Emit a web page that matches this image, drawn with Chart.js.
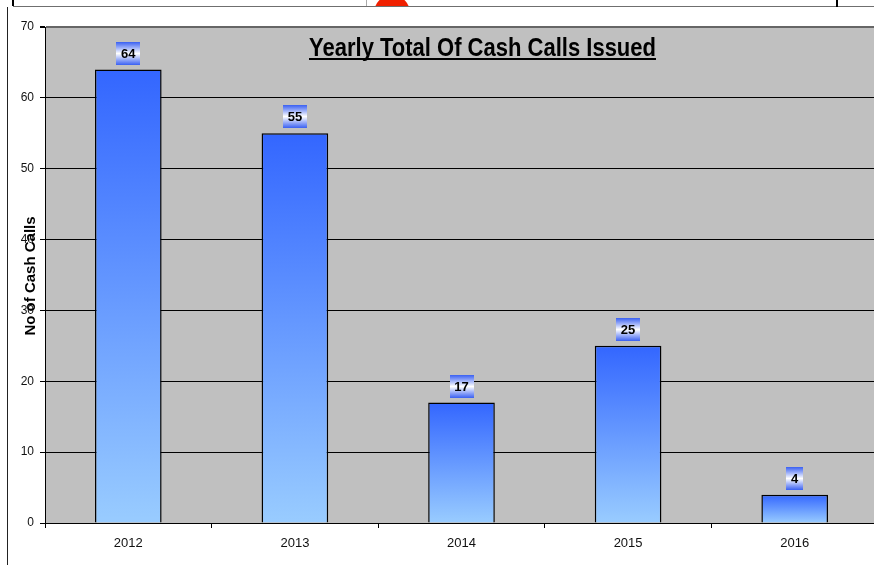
<!DOCTYPE html>
<html>
<head>
<meta charset="utf-8">
<script src="https://cdn.jsdelivr.net/npm/chart.js@4"></script>
<style>
  html, body {
    margin: 0;
    padding: 0;
    background: #fff;
    width: 874px;
    height: 565px;
    overflow: hidden;
  }

  .area {
    position: relative;
    width: 874px;
    height: 565px;
    overflow: hidden;
  }

  #grafico {
    position: absolute;
    left: 0;
    top: 0;
  }

  .risco {
    position: absolute;
  }
</style>
</head>
<body>
<div class="area">
  <canvas id="grafico" width="880" height="565"></canvas>
  <div class="risco" style="left:13px; top:6px; width:861px; height:1px; background:#6f6f6f;"></div>
  <div class="risco" style="left:12px; top:0; width:2px; height:6px; background:#000;"></div>
  <div class="risco" style="left:366px; top:0; width:1px; height:6px; background:#aaa;"></div>
  <div class="risco" style="left:374px; top:0; width:36px; height:6px; overflow:hidden;">
    <div style="position:absolute; left:0; top:-5px; width:36px; height:36px; border-radius:50%; background:#f02000;"></div>
  </div>
  <div class="risco" style="left:836px; top:0; width:2px; height:7px; background:#000;"></div>
  <div class="risco" style="left:7px; top:7px; width:1px; height:558px; background:#222;"></div>
</div>

<script>
const anos = ["2012", "2013", "2014", "2015", "2016"];
const totais = [64, 55, 17, 25, 4];
const marcasEixoY = [0, 10, 20, 30, 40, 50, 60, 70];

const tituloGrafico = "Yearly Total Of Cash Calls Issued";
const tituloEixoY = "No of Cash Calls";

function gradienteBarra(contexto) {
  const grafico = contexto.chart;
  const escalaY = grafico.scales.y;
  if (!escalaY || contexto.parsed == null) return "#3366ff";

  const topo = escalaY.getPixelForValue(contexto.parsed.y);
  const base = escalaY.getPixelForValue(0);
  if (!isFinite(topo) || !isFinite(base) || topo === base) return "#3366ff";

  const gradiente = grafico.ctx.createLinearGradient(0, topo, 0, base);
  gradiente.addColorStop(0, "#3366ff");
  gradiente.addColorStop(1, "#99ccff");
  return gradiente;
}

const pluginRotulos = {
  id: "rotulos",
  afterDatasetsDraw(grafico) {
    const ctx = grafico.ctx;
    const barras = grafico.getDatasetMeta(0).data;

    ctx.save();
    ctx.font = "bold 13px 'Liberation Sans', Arial, sans-serif";
    ctx.textAlign = "center";
    ctx.textBaseline = "middle";

    barras.forEach((barra, i) => {
      const texto = String(totais[i]);
      const largura = Math.round(ctx.measureText(texto).width) + 10;
      const altura = 23;
      const x = Math.round(barra.x - largura / 2);
      const y = Math.round(barra.y - 5 - altura);

      const fundo = ctx.createLinearGradient(0, y, 0, y + altura);
      fundo.addColorStop(0, "#3a60f2");
      fundo.addColorStop(0.5, "#ffffff");
      fundo.addColorStop(1, "#3a60f2");
      ctx.fillStyle = fundo;
      ctx.fillRect(x, y, largura, altura);

      ctx.fillStyle = "#000";
      ctx.fillText(texto, barra.x, y + altura / 2 + 1);
    });

    ctx.restore();
  }
};

const pluginTextos = {
  id: "textos",
  afterDraw(grafico) {
    const ctx = grafico.ctx;

    // titulo estreito: fonte maior comprimida na horizontal
    ctx.save();
    ctx.font = "bold 26px 'Liberation Sans Narrow', 'Liberation Sans', Arial, sans-serif";
    ctx.textBaseline = "alphabetic";
    ctx.textAlign = "left";
    const larguraReal = ctx.measureText(tituloGrafico).width;
    const larguraAlvo = 347;
    const escala = larguraAlvo / larguraReal;
    const inicio = 309;

    ctx.translate(inicio, 56);
    ctx.scale(escala, 1);
    ctx.fillStyle = "#000";
    ctx.fillText(tituloGrafico, 0, 0);
    ctx.restore();

    ctx.save();
    ctx.fillStyle = "#000";
    ctx.fillRect(inicio, 58, larguraAlvo, 2);
    ctx.restore();

    ctx.save();
    ctx.font = "bold 15px 'Liberation Sans', Arial, sans-serif";
    ctx.fillStyle = "#000";
    ctx.textAlign = "center";
    ctx.textBaseline = "middle";
    ctx.translate(31, 276);
    ctx.rotate(-Math.PI / 2);
    ctx.fillText(tituloEixoY, 0, 0);
    ctx.restore();
  }
};

const pluginFundo = {
  id: "fundoPlot",
  beforeDraw(grafico) {
    const area = grafico.chartArea;
    const ctx = grafico.ctx;
    ctx.save();
    ctx.fillStyle = "#c0c0c0";
    ctx.fillRect(area.left, area.top, area.right - area.left, area.bottom - area.top);
    ctx.restore();
  }
};

function criarGrafico() {
  const canvas = document.getElementById("grafico");

  return new Chart(canvas, {
    type: "bar",
    data: {
      labels: anos,
      datasets: [{
        data: totais,
        backgroundColor: gradienteBarra,
        borderColor: "#000",
        borderWidth: 1.5,
        barPercentage: 0.4,
        categoryPercentage: 1
      }]
    },
    options: {
      responsive: false,
      animation: false,
      devicePixelRatio: 1,
      layout: {
        padding: { top: 27, right: 2, bottom: 0, left: 0 }
      },
      plugins: {
        legend: { display: false },
        tooltip: { enabled: false }
      },
      scales: {
        x: {
          afterFit(escala) {
            escala.height = 42;
          },
          grid: {
            offset: true,
            drawOnChartArea: false,
            color: "#000",
            tickLength: 5
          },
          border: {
            color: "#000",
            width: 1
          },
          ticks: {
            color: "#111",
            padding: 8,
            font: { family: "'Liberation Sans', Arial, sans-serif", size: 13 }
          }
        },
        y: {
          min: 0,
          max: 70,
          afterFit(escala) {
            escala.width = 45;
          },
          afterBuildTicks(escala) {
            escala.ticks = marcasEixoY.map(valor => ({ value: valor }));
          },
          grid: {
            color: contexto => (contexto.tick && contexto.tick.value === 70 ? "#666" : "#000"),
            lineWidth: contexto => (contexto.tick && contexto.tick.value === 70 ? 2 : 1),
            tickColor: "#000",
            tickLength: 5
          },
          border: {
            color: "#000",
            width: 1
          },
          ticks: {
            color: "#111",
            padding: 6,
            font: { family: "'Liberation Sans', Arial, sans-serif", size: 12 }
          }
        }
      }
    },
    plugins: [pluginFundo, pluginRotulos, pluginTextos]
  });
}

document.addEventListener("DOMContentLoaded", criarGrafico);
</script>
</body>
</html>
